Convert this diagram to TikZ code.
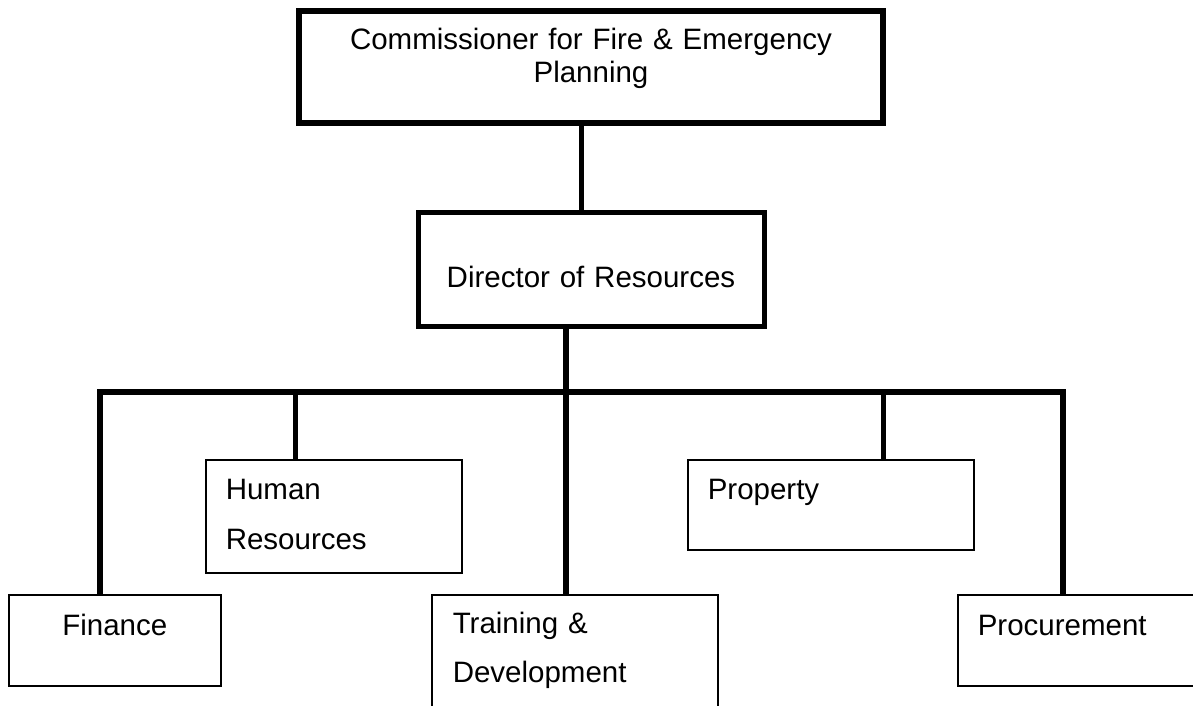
\documentclass[tikz,border=0pt]{standalone}
\usepackage{fontspec}
\setmainfont{Liberation Sans}
\usepackage{tikz}
\usetikzlibrary{positioning}

\tikzset{
    headbox/.style={draw, anchor=north west, inner sep=0pt, align=center},
    unitbox/.style={draw, line width=1.5pt, anchor=north west, inner ysep=0pt,
        align=left, font=\fontsize{29.5}{50}\selectfont},
    link/.style={line width=5.5pt},
}

\begin{document}
\begin{tikzpicture}[x=1pt, y=-1pt]
    \useasboundingbox (0,0) rectangle (1193,706);

    % Top of the chart
    \node[headbox, line width=6pt, text width=584pt, text height=39pt, text depth=73pt,
        font=\fontsize{29.5}{33}\selectfont] (comm) at (296,8)
        {Commissioner for Fire \& Emergency\\Planning};
    \node[headbox, line width=5pt, text width=346pt, text height=75.5pt, text depth=38.5pt,
        font=\fontsize{29.5}{33}\selectfont] (dir) at (415.5,209.5)
        {Director of Resources};

    % Units under the director
    \node[unitbox, align=center, inner xsep=0pt, text width=212pt,
        text height=41pt, text depth=50pt] (fin) at (8,594) {Finance};
    \node[unitbox, inner xsep=20pt, text width=216pt,
        text height=39.5pt, text depth=73.5pt] (hr) at (205,459) {Human\\Resources};
    \node[unitbox, inner xsep=21pt, text width=244pt,
        text height=39pt, text depth=107pt, font=\fontsize{29.5}{49}\selectfont]
        (train) at (431,594) {Training \&\\Development};
    \node[unitbox, inner xsep=20pt, text width=246pt,
        text height=39.5pt, text depth=50.5pt] (prop) at (687,459) {Property};
    \node[unitbox, inner xsep=20pt, text width=220pt,
        text height=41pt, text depth=50pt] (proc) at (957,594) {Procurement};

    % Junctions on the bus line
    \coordinate (jTop) at (581,120);
    \coordinate (jFin) at (100,392);
    \coordinate (jHR) at (295,392);
    \coordinate (jTrain) at (566,392);
    \coordinate (jProp) at (883,392);
    \coordinate (jProc) at (1063,392);

    % Connectors
    \draw[link, line width=5pt] (comm.south -| jTop) -- (dir.north -| jTop);
    \draw[link] (fin.north -| jFin) -- (jFin) -- (jProc) -- (proc.north -| jProc);
    \draw[link] (dir.south -| jTrain) -- (train.north -| jTrain);
    \draw[link, line width=5pt] (jHR) -- (hr.north -| jHR);
    \draw[link, line width=5pt] (jProp) -- (prop.north -| jProp);
\end{tikzpicture}
\end{document}
